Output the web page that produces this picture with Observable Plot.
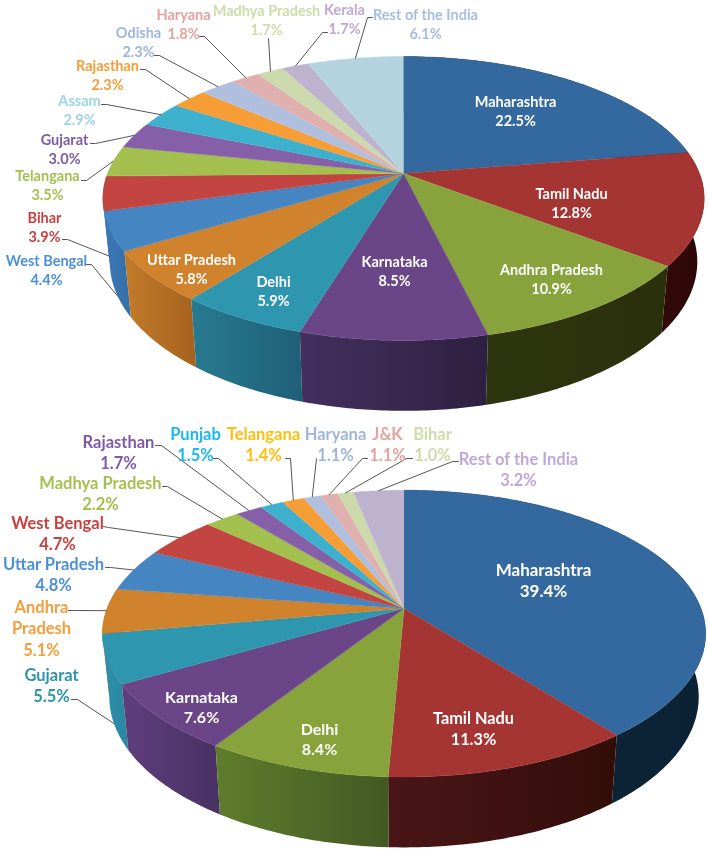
<!DOCTYPE html>
<html><head><meta charset="utf-8">
<style>html,body{margin:0;padding:0;background:#fff}svg{display:block;filter:blur(0.3px)}</style>
<script src="https://cdn.jsdelivr.net/npm/d3@7"></script>
<script src="https://cdn.jsdelivr.net/npm/@observablehq/plot@0.6"></script>
</head><body>
<script>
// ---------- data ----------
const namesA = ["Maharashtra","Tamil Nadu","Andhra Pradesh","Karnataka","Delhi","Uttar Pradesh","West Bengal","Bihar","Telangana","Gujarat","Assam","Rajasthan","Odisha","Haryana","Madhya Pradesh","Kerala","Rest of the India"];
const valuesA = [22.5,12.8,10.9,8.5,5.9,5.8,4.4,3.9,3.5,3.0,2.9,2.3,2.3,1.8,1.7,1.7,6.1];
const namesB = ["Maharashtra","Tamil Nadu","Delhi","Karnataka","Gujarat","Andhra\nPradesh","Uttar Pradesh","West Bengal","Madhya Pradesh","Rajasthan","Punjab","Telangana","Haryana","J&K","Bihar","Rest of the India"];
const valuesB = [39.4,11.3,8.4,7.6,5.5,5.1,4.8,4.7,2.2,1.7,1.5,1.4,1.1,1.1,1.0,3.2];

// ---------- palette ----------
const sliceColors = ["#34699f","#a53533","#89a33c","#6a4688","#2e96ae","#d0822c","#4485c2","#c24542","#a3c04f","#8560a8","#3cb0cc","#f79d36","#b0bfdd","#e0b0ae","#ccd9ac","#bdb3cf","#b3d3df"];
const sliceColorsB = [...sliceColors.slice(0,15),"#bdb3cf"];
const wallsA = [["#2a0505","#2a0505"],["#320a08","#2c0606"],["#2d350e","#2a300c"],["#43305e","#2e2040"],["#277a90","#1f6078"],["#c27b2b","#a7621f"],["#3b7ab9","#346ea6"],["#3b7ab9","#346ea6"]];
const wallsB = [["#0e2839","#0b2235"],["#4a1618","#320d08"],["#5f7d2d","#435923"],["#603e7e","#483163"],["#2f8fab","#2a87a2"],["#c27b2b","#a7621f"]];
const labelColorsA = ["#fff","#fff","#fff","#fff","#fff","#fff","#4d90da","#c8413f","#a5c04f","#7e5aa6","#9dd5e8","#f79d3a","#9fb5de","#e3a3a0","#cfdcaa","#bfa8d8","#a5bfe3"];
const labelColorsB = ["#fff","#fff","#fff","#fff","#2e93ad","#f79d3a","#4d90da","#c8413f","#a5c04f","#7e5aa6","#1cb8ef","#fdc010","#9fb5de","#e3a3a0","#cfdcaa","#bfa8d8"];

// ---------- label layout (centre x, centre y of block, font size) ----------
const labelPosA = [[515,110,14.5],[571,202,14.5],[551,278,14.5],[394,270,14.5],[273,290,14.5],[191,268,14.5],[46,269,14.5],[44,226,14.5],[47,184,14.5],[64,148,14.5],[79,109,14.5],[107,74,14.5],[138,41,14.5],[183,23,14.5],[266,19,14.5],[344,18,14.5],[425,23,14.5]];
const labelPosB = [[543,579,17],[473,727,16.3],[319,738,16],[201,706,16],[51,684,16.5],[41,627,16.5],[53,573,16.5],[57,532,16.5],[100,492,16.5],[118,451,16.5],[195,443,16.5],[263,443,16.5],[335,443,16.5],[387,443,16.5],[432,443,16.5],[518,468,16.5]];
// leader elbows next to each outside label
const elbowsA = [null,null,null,null,null,null,[[86,264],[91,264]],[[62,239],[67,239]],[[81,180],[86,180]],[[90,143],[95,143]],[[101,104],[106,104]],[[140,69],[145,69]],[[154,55],[159,55]],[[199,36],[204,36]],[[268,38],[268,38]],[[327,32],[322,32]],[[372,17],[367,17]]];
const elbowsB = [null,null,null,null,[[71,699],[77,699]],[[68,610],[73,610]],[[105,567],[110,567]],[[103,526],[108,527]],[[162,486],[167,486]],[[155,445],[161,445]],[[213,458],[218,458]],[[285,458],[290,458]],[[316,458],[316,458]],[[367,458],[362,458]],[[412,458],[406,458]],[[458,461],[452,461]]];

// ---------- perspective model of the pie ----------
function model(cx, cy, a, b, k) {
  const proj = s => {
    const t = s / 100 * 2 * Math.PI, sx = Math.sin(t), sy = -Math.cos(t), d = 1 - k * sy;
    return {X: a * sx / d, Y: b * sy / d, depth: sy};
  };
  return {
    top: s => { const p = proj(s); return {x: cx + p.X, y: cy + p.Y}; },
    base: s => { const p = proj(s); return {x: cx + p.X * 0.977, y: cy + p.Y * 1.05 + 62}; },
    depth: s => proj(s).depth,
    apex: {x: cx, y: cy}
  };
}
function arc(fn, s0, s1) {
  const n = Math.max(4, Math.ceil((s1 - s0) / 0.2)), out = [];
  for (let i = 0; i <= n; ++i) out.push(fn(s0 + (s1 - s0) * i / n));
  return out;
}
const style = {x: "x", y: "y", curve: "linear"};

function pie(id, names, values, colors, walls, labelColors, labelPos, elbows, m, lh) {
  const ends = d3.cumsum(values), total = ends[ends.length - 1];
  const slices = values.map((v, i) => {
    const s1 = ends[i] / total * 100, s0 = s1 - v / total * 100;
    return {i, s0, s1, mid: (s0 + s1) / 2};
  });
  const defs = () => {
    const d = d3.create("svg:defs");
    walls.forEach((w, i) => {
      const g = d.append("linearGradient").attr("id", `${id}w${i}`);
      g.append("stop").attr("offset", 0).attr("stop-color", w[0]);
      g.append("stop").attr("offset", 1).attr("stop-color", w[1]);
    });
    return d.node();
  };
  const wallOrder = slices.filter(s => walls[s.i]).sort((p, q) => m.depth(p.mid) - m.depth(q.mid));
  const wallMarks = wallOrder.map(s => {
    const pts = [...arc(m.top, s.s0, s.s1), ...arc(m.base, s.s0, s.s1).reverse()];
    return Plot.line(pts, {...style, fill: `url(#${id}w${s.i})`, stroke: "none"});
  });
  const topMarks = slices.map(s => {
    const pts = [m.apex, ...arc(m.top, s.s0, s.s1)];
    return Plot.line(pts, {...style, fill: colors[s.i], stroke: colors[s.i], strokeWidth: 0.4});
  });
  const leaderMarks = slices.filter(s => elbows[s.i]).map(s => {
    const end = m.depth(s.mid) > 0.05 ? m.base(s.mid) : m.top(s.mid);
    const pts = [...elbows[s.i].map(([x, y]) => ({x, y})), end];
    return Plot.line(pts, {...style, stroke: "#555", strokeWidth: 1});
  });
  const rows = slices.map(s => ({
    x: labelPos[s.i][0], y: labelPos[s.i][1], size: labelPos[s.i][2],
    text: `${names[s.i]}\n${values[s.i].toFixed(1)}%`,
    fill: labelColors[s.i]
  }));
  const textMark = Plot.text(rows, {
    x: "x", y: "y", text: "text", fill: d => d.fill, fontSize: d => d.size, lineHeight: lh,
    fontWeight: 700, fontFamily: "Lato", lineAnchor: "middle", textAnchor: "middle"
  });
  return [defs, ...wallMarks, ...topMarks, ...leaderMarks, textMark];
}

const chart = Plot.plot({
  width: 708, height: 849,
  margin: 0,
  x: {domain: [0, 708], range: [0, 708], axis: null},
  y: {domain: [0, 849], range: [0, 849], axis: null},
  color: {type: "identity"},
  marks: [
    ...pie("a", namesA, valuesA, sliceColors, wallsA, labelColorsA, labelPosA, elbowsA, model(403, 173, 296, 137.6, 0.176), 1.28),
    ...pie("b", namesB, valuesB, sliceColorsB, wallsB, labelColorsB, labelPosB, elbowsB, model(403.5, 608, 297, 139, 0.175), 1.29)
  ]
});
document.body.append(chart);
</script>
</body></html>
